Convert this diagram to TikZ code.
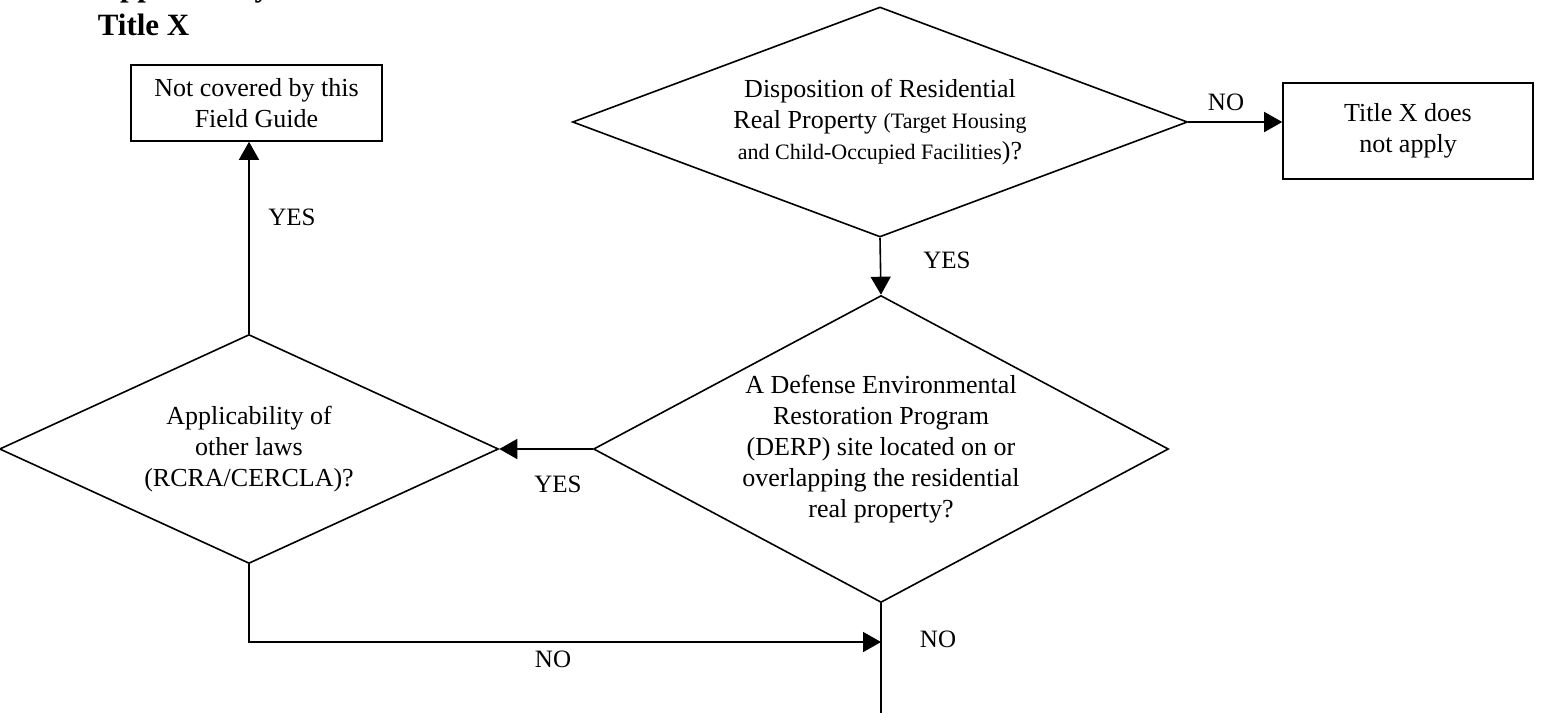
\documentclass[tikz,border=0pt]{standalone}
\usepackage{fontspec}
\setmainfont{Liberation Serif}
\usetikzlibrary{shapes.geometric,arrows.meta}
\newcommand{\chartfont}{\fontsize{13pt}{15.5pt}\selectfont}
\newcommand{\notefont}{\fontsize{11pt}{15.5pt}\selectfont}
\newcommand{\headfont}{\fontsize{15.5pt}{18pt}\selectfont\bfseries}
\begin{document}
\begin{tikzpicture}[x=0.5pt, y=-0.5pt, line width=0.8pt,
  decision/.style={diamond, draw=black, inner sep=0pt, align=center, font=\chartfont},
  outcome/.style={rectangle, draw=black, inner sep=0pt, align=center, font=\chartfont},
  answer/.style={font=\fontsize{12.5pt}{15pt}\selectfont},
  flow/.style={-{Triangle[length=9pt, width=10pt]}}]

\useasboundingbox (0,0) rectangle (1543,713);
\clip (0,0) rectangle (1543,713);

\node at (97,-4)[anchor=base west, inner sep=0pt, font=\headfont] (heading) {Applicability of};
\node at (97,35)[anchor=base west, inner sep=0pt, font=\headfont] (title) {Title X};

\node at (880,122)[decision, aspect=2.67, minimum width=307.5pt, minimum height=115pt] (disposal) {Disposition of Residential\\Real Property {\notefont (Target Housing}\\{\notefont and Child-Occupied Facilities})?};
\node at (1408,131)[outcome, minimum width=125pt, minimum height=48pt] (noapply) {Title X does\\not apply};
\node at (881,449)[decision, aspect=1.87, minimum width=287.5pt, minimum height=153.5pt] (derp) {A Defense Environmental\\Restoration Program\\(DERP) site located on or\\overlapping the residential\\real property?};
\node at (249,449)[decision, aspect=2.18, minimum width=249.5pt, minimum height=114.5pt] (laws) {Applicability of\\other laws\\(RCRA/CERCLA)?};
\node at (256.5,103)[outcome, minimum width=125.5pt, minimum height=38pt] (notcovered) {Not covered by this\\Field Guide};

\coordinate (merge) at (881,642);
\coordinate (exit) at (881,713);

\draw[flow] (disposal.east) -- (noapply.west |- disposal.east);
\draw[flow] (disposal.south) -- (derp.north);
\draw[flow] (derp.west) -- (laws.east);
\draw[flow] (laws.north) -- (laws.north |- notcovered.south);
\draw[flow] (laws.south) |- (merge);
\draw (derp.south) -- (exit);

\node at (1226,102)[answer] (noright) {NO};
\node at (947,260)[answer] (yesdown) {YES};
\node at (292,217)[answer] (yesup) {YES};
\node at (558,484)[answer] (yesleft) {YES};
\node at (553,659)[answer] (nomerge) {NO};
\node at (938,639)[answer] (noexit) {NO};

\end{tikzpicture}
\end{document}
